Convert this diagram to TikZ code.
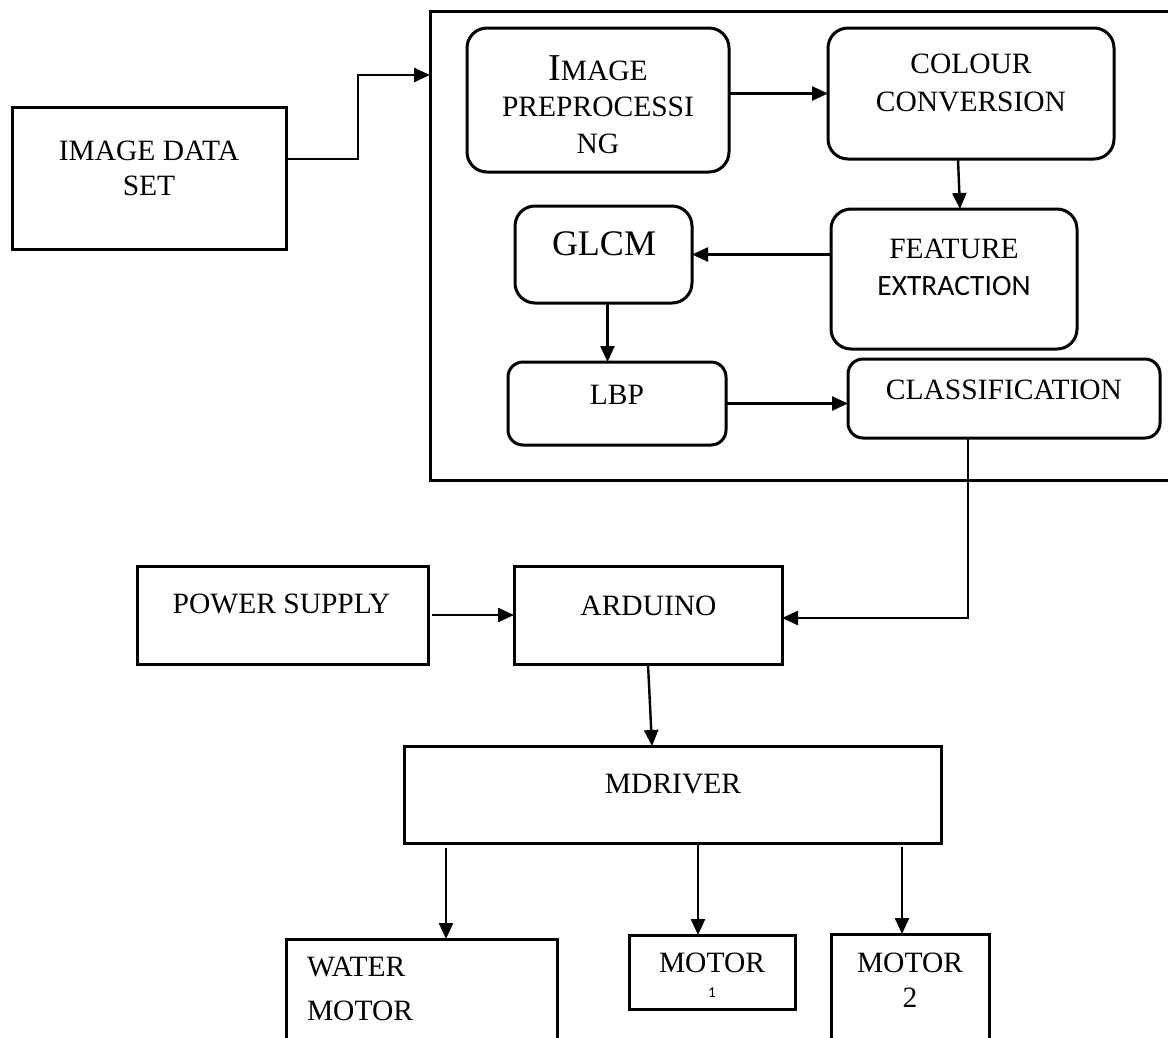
\documentclass[tikz,border=0pt]{standalone}
\usepackage{fontspec}
\setmainfont{Liberation Serif}
\newfontfamily\calibri{Carlito}
\usetikzlibrary{arrows.meta,calc}
\begin{document}
\begin{tikzpicture}[x=1pt,y=-1pt,
  box/.style={draw, line width=3pt, inner sep=0pt, outer sep=0pt},
  rbox/.style={box, rounded corners=20pt},
  sbox/.style={box, rounded corners=15pt},
  txt/.style={anchor=base, align=center, inner sep=0pt, outer sep=0pt, font=\fontsize{29.5}{36}\selectfont},
  arr/.style={-{Triangle[length=16pt,width=14pt]}, line width=2.4pt}]
\path[use as bounding box, fill=white] (0,0) rectangle (1168,1037);
\clip (0,0) rectangle (1168,1037);

% boxes
\node[box, minimum width=274pt, minimum height=142pt] (ids) at (149,178) {};
\node[box, minimum width=760pt, minimum height=469pt] (big) at (810,245.5) {};
\node[rbox, minimum width=262pt, minimum height=144pt] (pre) at (598,100) {};
\node[rbox, minimum width=286pt, minimum height=131pt] (cc) at (971,93.5) {};
\node[rbox, minimum width=246pt, minimum height=140pt] (fe) at (954,279) {};
\node[rbox, minimum width=177pt, minimum height=97pt] (glcm) at (603.5,254.5) {};
\node[sbox, minimum width=218pt, minimum height=83pt] (lbp) at (617,403.5) {};
\node[sbox, minimum width=312pt, minimum height=79pt] (cls) at (1004,398.5) {};
\node[box, minimum width=291pt, minimum height=98pt] (ps) at (282.5,615) {};
\node[box, minimum width=268pt, minimum height=98pt] (ard) at (648,615) {};
\node[box, minimum width=537pt, minimum height=97pt] (mdrv) at (672.5,794.5) {};
\node[box, minimum width=271pt, minimum height=121pt] (wm) at (421.5,999.5) {};
\node[box, minimum width=166pt, minimum height=74pt] (m1) at (712,972) {};
\node[box, minimum width=158pt, minimum height=126pt] (m2) at (910,997) {};

% texts (anchor=base is the baseline of the last line)
\node[txt, font=\fontsize{29.5}{35}\selectfont] (ids-t) at (149,195) {IMAGE DATA\\SET};
\node[txt, font=\fontsize{29.5}{36.5}\selectfont] (pre-t) at (598,153) {{\fontsize{38}{36.5}\selectfont I}MAGE\\PREPROCESSI\\NG};
\node[txt, font=\fontsize{29.5}{38}\selectfont] (cc-t) at (971,111) {COLOUR\\CONVERSION};
\node[txt, font=\fontsize{36}{40}\selectfont] (glcm-t) at (604,255) {GLCM};
\node[txt, font=\fontsize{29.5}{37}\selectfont] (fe-t) at (954,295) {FEATURE\\{\calibri EXTRACTION}};
\node[txt] (lbp-t) at (617,404) {LBP};
\node[txt] (cls-t) at (1004,399) {CLASSIFICATION};
\node[txt] (ps-t) at (281.5,613) {POWER SUPPLY};
\node[txt] (ard-t) at (648.5,615) {ARDUINO};
\node[txt] (mdrv-t) at (673,793) {MDRIVER};
\node[txt, anchor=base west, align=left, font=\fontsize{29.5}{44}\selectfont] (wm-t) at (307,1020) {WATER\\MOTOR};
\node[txt] (m1-t) at (712,972) {MOTOR};
\node[txt, font=\fontsize{15}{15}\calibri\selectfont] (m1-n) at (712,997) {1};
\node[txt, font=\fontsize{29.5}{35}\selectfont] (m2-t) at (910,1007) {MOTOR\\2};

% connectors
\coordinate (b1) at (358,159);
\coordinate (b2) at (358,75);
\draw[arr] (ids.east |- b1) -- (b1) -- (b2) -- (b2 -| big.west);
\draw[arr] (pre.east |- cc.west) -- (cc.west);
\draw[arr] ($(cc.south)+(-13,0)$) -- ($(fe.north)+(6,0)$);
\draw[arr] (fe.west |- glcm.east) -- (glcm.east);
\draw[arr] ($(glcm.south)+(4,0)$) -- ($(glcm.south |- lbp.north)+(4,0)$);
\draw[arr] (lbp.east) -- (lbp.east -| cls.west);
\coordinate (turn) at (968,618);
\draw[arr] (cls.south -| turn) -- (turn) -- (turn -| ard.east);
\draw[arr] ($(ps.east)+(4,0)$) -- (ard.west);
\draw[arr] (ard.south) -- ($(ard.south |- mdrv.north)+(4,0)$);
\coordinate (wmtop) at (446,939);
\coordinate (m1top) at (698,935);
\coordinate (m2top) at (902,934);
\draw[arr] ($(mdrv.south -| wmtop)+(0,5)$) -- (wmtop);
\draw[arr] (mdrv.south -| m1top) -- (m1top);
\draw[arr] ($(mdrv.south -| m2top)+(0,4)$) -- (m2top);
\end{tikzpicture}
\end{document}
